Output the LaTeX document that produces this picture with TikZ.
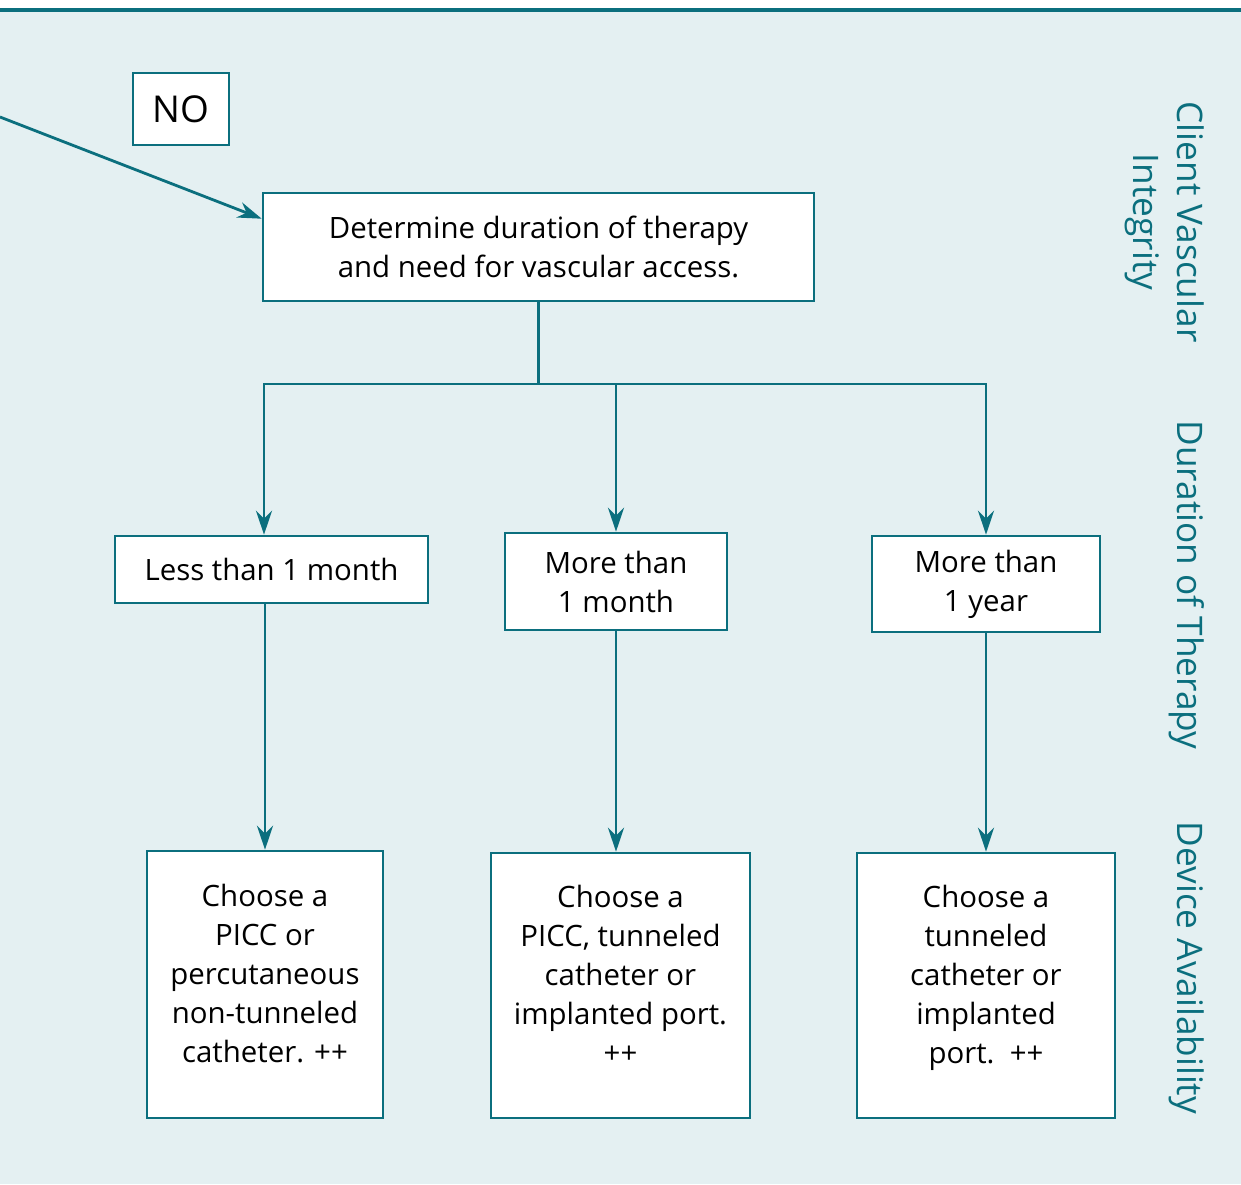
\documentclass[tikz,border=0pt]{standalone}
\usepackage{fontspec}
\setmainfont{Open Sans}
\usetikzlibrary{arrows.meta}
\definecolor{flowteal}{HTML}{0B6F7E}
\definecolor{flowbg}{HTML}{E4F0F2}
\begin{document}
\begin{tikzpicture}[x=0.5pt,y=-0.5pt,
  box/.style={draw=flowteal,line width=1.3pt,fill=white,align=center,
    inner sep=2pt,font=\fontsize{14.7}{19.5}\selectfont},
  side/.style={text=flowteal,rotate=-90,align=center,
    font=\fontsize{17.6}{22}\selectfont},
  link/.style={draw=flowteal,line width=1.4pt},
  arr/.style={link,-{Stealth[length=12pt,width=8pt]}}]
%%% background and top rule
\useasboundingbox (0,0) rectangle (1241,1184);
\fill[flowbg] (0,12) rectangle (1241,1184);
\draw[flowteal,line width=2pt] (0,10) -- (1241,10);
%%% first question
\node[box,minimum width=48pt,minimum height=36pt,font=\fontsize{18.5}{22}\selectfont]
  (no) at (181,109) {NO};
\node[box,minimum width=275.5pt,minimum height=54pt] (det) at (538.5,247)
  {Determine duration of therapy\\and need for vascular access.};
\coordinate (from) at (0,117);
\draw[arr] (from) -- ([yshift=-13.5pt]det.north west);
%%% duration of therapy
\node[box,minimum width=156.5pt,minimum height=33.5pt] (less) at (271.5,569.5)
  {Less than 1 month};
\node[box,minimum width=111pt,minimum height=48.5pt] (month) at (616,581.5)
  {More than\\1 month};
\node[box,minimum width=114pt,minimum height=48pt] (year) at (986,584)
  {More than\\1 year};
\coordinate (fork) at (det.south |- 0,384);
\draw[link] (det.south) -- (fork);
\draw[arr] (fork) -| ([xshift=-3.75pt]less.north);
\draw[arr] (fork) -| (month.north);
\draw[arr] (fork) -| (year.north);
%%% device choice
\node[box,minimum width=118pt,minimum height=133.5pt,text depth=11pt] (pick1) at (265,984.5)
  {Choose a\\PICC or\\percutaneous\\non-tunneled\\catheter. ++};
\node[box,minimum width=129.5pt,minimum height=132.5pt,text depth=11pt] (pick2) at (620.5,985.5)
  {Choose a\\PICC, tunneled\\catheter or\\implanted port.\\++};
\node[box,minimum width=129pt,minimum height=132.5pt,text depth=11pt] (pick3) at (986,985.5)
  {Choose a\\tunneled\\catheter or\\implanted\\port.~~++};
\draw[arr] (pick1.north |- less.south) -- (pick1.north);
\draw[arr] (month.south) -- (month.south |- pick2.north);
\draw[arr] (year.south) -- (year.south |- pick3.north);
%%% side captions
\node[side] (cvi) at (1165,222) {Client Vascular\\Integrity};
\node[side] (dot) at (1187,585) {Duration of Therapy};
\node[side] (dav) at (1187,968) {Device Availability};
\end{tikzpicture}
\end{document}
